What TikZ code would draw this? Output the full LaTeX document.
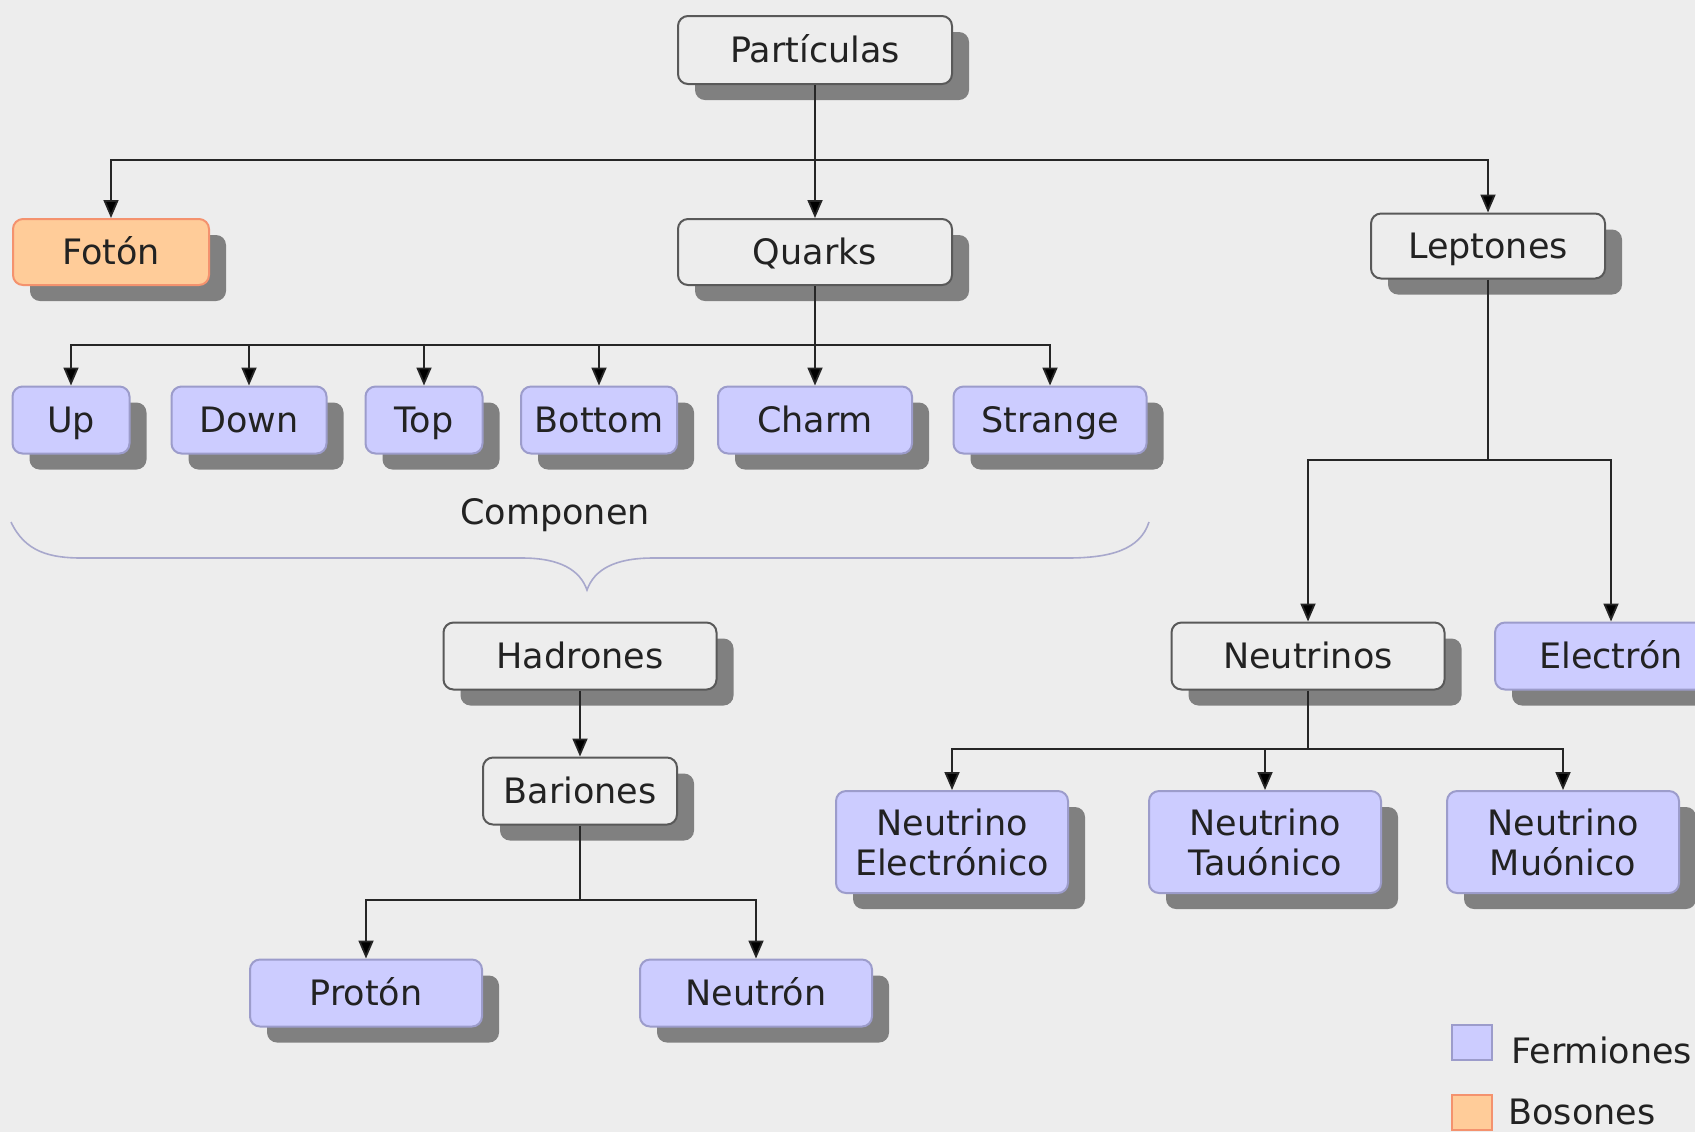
\documentclass[tikz,border=0pt]{standalone}
\usepackage{fontspec}
\setmainfont{DejaVu Sans}
\usetikzlibrary{arrows.meta,shadows}
\definecolor{bgcol}{HTML}{EDEDED}
\definecolor{fermfill}{HTML}{CCCCFF}
\definecolor{fermline}{HTML}{9C9CCB}
\definecolor{bosfill}{HTML}{FFCC99}
\definecolor{bosline}{HTML}{F4926E}
\definecolor{shadowcol}{HTML}{808080}
\definecolor{bracecol}{HTML}{A8A8CC}
\definecolor{textcol}{HTML}{222222}
\tikzset{
  box/.style={rounded corners=5pt, line width=1pt, minimum height=33.5pt, align=center,
    text=textcol, font=\fontsize{17.5}{20}\selectfont, inner sep=0pt,
    text height=14pt, text depth=2pt,
    drop shadow={shadow xshift=8.5pt, shadow yshift=-8pt, fill=shadowcol, opacity=1}},
  twoline/.style={minimum height=51pt, text height={}, text depth={}},
  neutral/.style={box, draw=black!65, fill=bgcol},
  fermion/.style={box, draw=fermline, fill=fermfill},
  boson/.style={box, draw=bosline, fill=bosfill},
  legsq/.style={line width=1pt, minimum width=20pt, minimum height=17.5pt, inner sep=0pt},
  legtxt/.style={anchor=west, inner sep=0pt, text=textcol, font=\fontsize{17.5}{20}\selectfont},
  conn/.style={line width=0.9pt, draw=black!85},
  arr/.style={conn, -{Triangle[length=9pt,width=7.5pt,fill=black]}},
}
\begin{document}
\begin{tikzpicture}[x=0.5pt,y=-0.5pt]
    \fill[bgcol] (0,0) rectangle (1695,1132);
    \useasboundingbox (0,0) rectangle (1695,1132);
    % top levels
    \node[neutral, minimum width=137pt, minimum height=34pt] (part) at (815,50) {Partículas};
    \node[boson, minimum width=98pt, minimum height=33pt] (foton) at (111,252) {Fotón};
    \node[neutral, minimum width=137pt, minimum height=33pt] (quarks) at (815,252) {Quarks};
    \node[neutral, minimum width=117pt, minimum height=32.5pt] (lept) at (1488,246) {Leptones};
    % quarks
    \node[fermion, minimum width=58.5pt] (up) at (71,420) {Up};
    \node[fermion, minimum width=77.5pt] (down) at (249,420) {Down};
    \node[fermion, minimum width=58.5pt] (top) at (424,420) {Top};
    \node[fermion, minimum width=78pt] (bottom) at (599,420) {Bottom};
    \node[fermion, minimum width=97pt] (charm) at (815,420) {Charm};
    \node[fermion, minimum width=96.5pt] (strange) at (1050,420) {Strange};
    % brace
    \node[legtxt, anchor=center] (comp) at (555,515) {Componen};
    \draw[bracecol, line width=0.8pt] (11,522) .. controls (25,552) and (50,558) .. (82,558)
        -- (522,558) .. controls (560,558) and (580,570) .. (587,590)
        .. controls (594,570) and (614,558) .. (653,558)
        -- (1067,558) .. controls (1110,558) and (1140,550) .. (1149,522);
    % hadrons
    \node[neutral, minimum width=136.5pt] (hadr) at (580,656) {Hadrones};
    \node[neutral, minimum width=97pt] (bar) at (580,791) {Bariones};
    \node[fermion, minimum width=116pt] (proton) at (366,993) {Protón};
    \node[fermion, minimum width=116pt] (neutron) at (756,993) {Neutrón};
    % leptons
    \node[neutral, minimum width=136.5pt] (neutrinos) at (1308,656) {Neutrinos};
    \node[fermion, minimum width=116pt] (electron) at (1611,656) {Electrón};
    \node[fermion, twoline, minimum width=116pt] (nue) at (952,842) {Neutrino\\Electrónico};
    \node[fermion, twoline, minimum width=116pt] (nutau) at (1265,842) {Neutrino\\Tauónico};
    \node[fermion, twoline, minimum width=116pt] (numu) at (1563,842) {Neutrino\\Muónico};
    % legend
    \node[legsq, draw=fermline, fill=fermfill] (legf) at (1472,1042) {};
    \node[legtxt] (legftxt) at (1511,1050) {Fermiones};
    \node[legsq, draw=bosline, fill=bosfill] (legb) at (1472,1112) {};
    \node[legtxt] (legbtxt) at (1508,1112) {Bosones};
    % connectors
    \coordinate (jpart) at (815,160);
    \draw[conn] (part) -- (jpart);
    \draw[arr] (jpart) -| (foton);
    \draw[arr] (jpart) -| (lept);
    \draw[arr] (jpart) -- (quarks);
    \coordinate (jq) at (815,345);
    \draw[conn] (quarks) -- (jq);
    \foreach \q in {up,down,top,bottom,strange}
        \draw[arr] (jq) -| (\q);
    \draw[arr] (jq) -- (charm);
    \coordinate (jl) at (1488,460);
    \draw[conn] (lept) -- (jl);
    \draw[arr] (jl) -| (neutrinos);
    \draw[arr] (jl) -| (electron);
    \draw[arr] (hadr) -- (bar);
    \coordinate (jb) at (580,900);
    \draw[conn] (bar) -- (jb);
    \draw[arr] (jb) -| (proton);
    \draw[arr] (jb) -| (neutron);
    \coordinate (jn) at (1308,749);
    \draw[conn] (neutrinos) -- (jn);
    \foreach \n in {nue,nutau,numu}
        \draw[arr] (jn) -| (\n);
\end{tikzpicture}
\end{document}
